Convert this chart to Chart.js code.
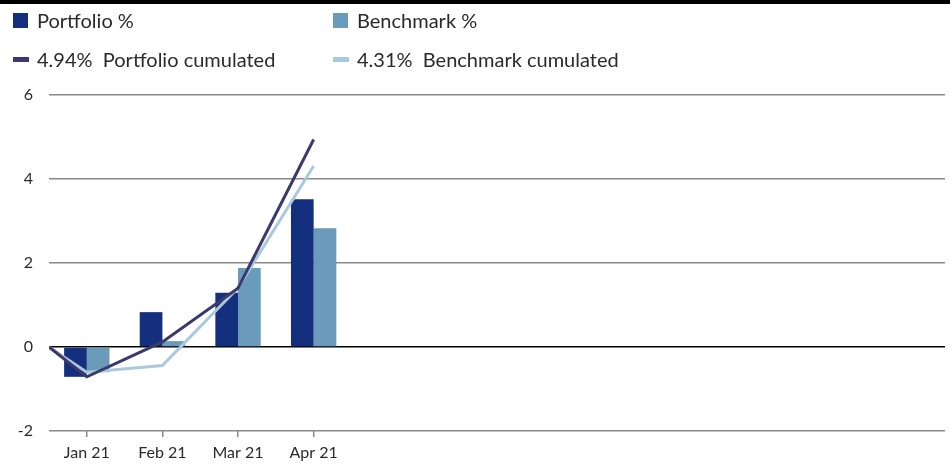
<!DOCTYPE html>
<html>
<head>
<meta charset="utf-8">
<script src="https://cdn.jsdelivr.net/npm/chart.js@4.4.1/dist/chart.umd.min.js"></script>
<style>
  html, body { margin: 0; padding: 0; background: #fff; }
  #wrap { position: relative; width: 950px; height: 466px; overflow: hidden; }
  #topRule { position: absolute; left: 0; top: 0; width: 950px; height: 4px; background: #000; }
  #chart { position: absolute; left: 0; top: 0; }
  .lg { position: absolute; font-family: Lato, 'Open Sans', sans-serif; font-size: 20px; color: #2a2a2a; white-space: pre; line-height: 20px; }
  .sw { position: absolute; }
</style>
</head>
<body>
<div id="wrap">
  <canvas id="chart" width="950" height="466"></canvas>
  <div id="topRule"></div>
  <div id="legend"></div>
</div>
<script>
// month categories (only the first four have data yet)
const months = ['Jan 21', 'Feb 21', 'Mar 21', 'Apr 21', '', '', '', '', '', '', '', ''];

// monthly performance in %
const portfolioPct = [-0.71, 0.83, 1.29, 3.52];
const benchmarkPct = [-0.60, 0.14, 1.88, 2.83];

// cumulated performance: start of period (-0.5 = before Jan), then end of each month
const cumSteps = [-0.5, 0, 1, 2, 3];
const portfolioCum = [0, -0.71, 0.12, 1.40, 4.94];
const benchmarkCum = [0, -0.60, -0.44, 1.41, 4.31];

const yTicks = [-2, 0, 2, 4, 6];

const colors = {
    portfolioBar: '#132f7e',
    benchmarkBar: '#6a9bba',
    portfolioLine: '#3c3a6c',
    benchmarkLine: '#a9c9dd'
};

const fmt = v => v.toFixed(2) + '%';

// legend (html, two columns)
const legendItems = [
    { text: 'Portfolio %', color: colors.portfolioBar, kind: 'box', x: 13, y: 13 },
    { text: 'Benchmark %', color: colors.benchmarkBar, kind: 'box', x: 333, y: 13 },
    { text: fmt(portfolioCum[portfolioCum.length - 1]) + '  Portfolio cumulated', color: colors.portfolioLine, kind: 'line', x: 13, y: 52 },
    { text: fmt(benchmarkCum[benchmarkCum.length - 1]) + '  Benchmark cumulated', color: colors.benchmarkLine, kind: 'line', x: 333, y: 52 }
];
const legendEl = document.getElementById('legend');
legendItems.forEach(item => {
    const sw = document.createElement('div');
    sw.className = 'sw';
    sw.style.background = item.color;
    sw.style.left = item.x + 'px';
    if (item.kind === 'box') {
        sw.style.top = item.y + 'px';
        sw.style.width = '15px';
        sw.style.height = '15px';
    } else {
        sw.style.top = (item.y + 5) + 'px';
        sw.style.width = '16px';
        sw.style.height = '5px';
    }
    legendEl.appendChild(sw);
    const t = document.createElement('div');
    t.className = 'lg';
    t.textContent = item.text;
    t.style.left = (item.x + 24) + 'px';
    t.style.top = (item.y - 3) + 'px';
    legendEl.appendChild(t);
});

const monthPoints = vals => vals.map((v, i) => ({ x: i, y: v }));
const cumPoints = vals => vals.map((v, i) => ({ x: cumSteps[i], y: v }));

new Chart(document.getElementById('chart'), {
    type: 'bar',
    data: {
        datasets: [
            {
                label: 'Portfolio cumulated',
                type: 'line',
                data: cumPoints(portfolioCum),
                borderColor: colors.portfolioLine,
                borderWidth: 3,
                pointRadius: 0,
                tension: 0,
                order: 0
            },
            {
                label: 'Benchmark cumulated',
                type: 'line',
                data: cumPoints(benchmarkCum),
                borderColor: colors.benchmarkLine,
                borderWidth: 3,
                pointRadius: 0,
                tension: 0,
                order: 0
            },
            {
                label: 'Portfolio %',
                data: monthPoints(portfolioPct),
                backgroundColor: colors.portfolioBar,
                categoryPercentage: 0.6,
                barPercentage: 1.0,
                order: 1
            },
            {
                label: 'Benchmark %',
                data: monthPoints(benchmarkPct),
                backgroundColor: colors.benchmarkBar,
                categoryPercentage: 0.6,
                barPercentage: 1.0,
                order: 1
            }
        ]
    },
    options: {
        responsive: false,
        animation: false,
        layout: { padding: { top: 95, right: 5, bottom: 0, left: 0 } },
        plugins: {
            legend: { display: false },
            tooltip: { enabled: false }
        },
        scales: {
            x: {
                type: 'linear',
                offset: false,
                min: -0.5,
                max: 11.35, // the year's last slot is cut off at the right edge
                border: { display: false },
                afterBuildTicks: s => { s.ticks = months.map((m, i) => ({ value: i })); },
                grid: {
                    offset: false,
                    drawOnChartArea: false,
                    tickLength: 6,
                    lineWidth: 1.5,
                    tickColor: ctx => (ctx.tick && months[ctx.tick.value] ? '#8a8a8a' : 'rgba(0,0,0,0)')
                },
                ticks: {
                    padding: 6,
                    maxRotation: 0,
                    autoSkip: false,
                    color: '#2a2a2a',
                    font: { family: 'Lato', size: 16 },
                    callback: v => months[v]
                },
                afterFit: s => { s.height = 35; }
            },
            y: {
                min: yTicks[0],
                max: yTicks[yTicks.length - 1],
                border: { display: false },
                afterBuildTicks: s => { s.ticks = yTicks.map(v => ({ value: v })); },
                grid: {
                    drawTicks: false,
                    lineWidth: 1.5,
                    color: ctx => (ctx.tick && ctx.tick.value === 0 ? '#000000' : '#8a8a8a')
                },
                ticks: {
                    padding: 16,
                    color: '#2a2a2a',
                    font: { family: 'Lato', size: 16 }
                },
                afterFit: s => { s.width = 49; }
            }
        }
    }
});
</script>
</body>
</html>
